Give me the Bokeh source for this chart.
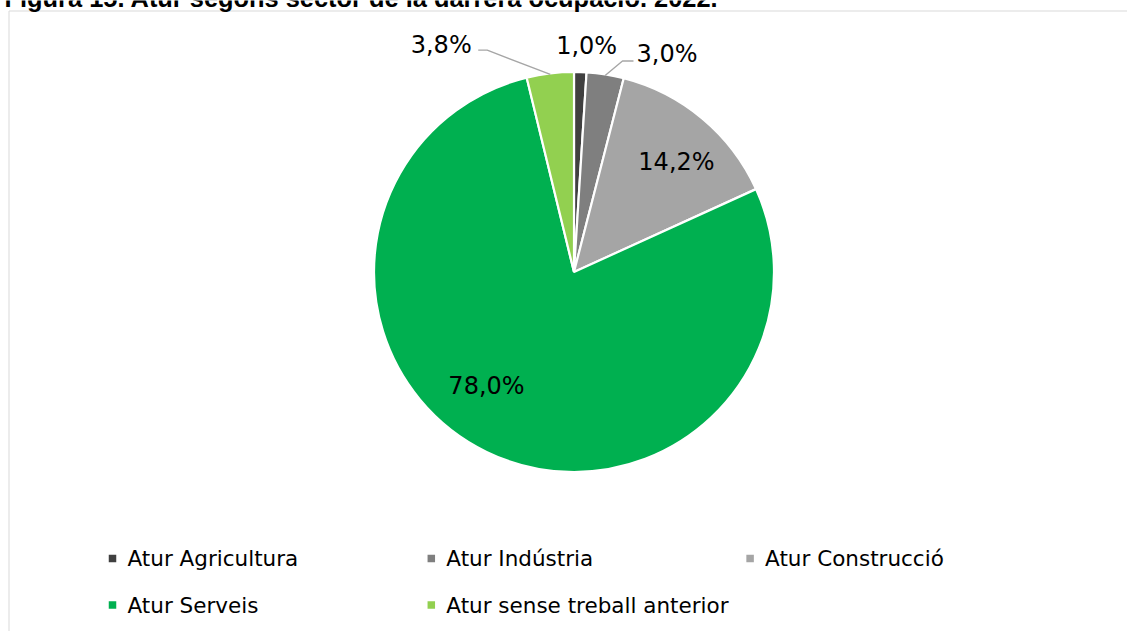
import math
from bokeh.plotting import figure
from bokeh.models import Range1d, ColumnDataSource, Label
from bokeh.core.properties import value
from bokeh.embed import file_html
from bokeh.resources import INLINE

# ---------------- data ----------------
title_text = "Figura 15. Atur segons sector de la darrera ocupació. 2022."
categories = ["Atur Agricultura", "Atur Indústria", "Atur Construcció",
              "Atur Serveis", "Atur sense treball anterior"]
shares = [1.0, 3.0, 14.2, 78.0, 3.8]
colors = ["#404040", "#7f7f7f", "#a5a5a5", "#00b050", "#92d050"]

# ---------------- layout ----------------
W, H = 1127, 631


def Y(py):
    return H - py


CX, CY = 573.5, 271.5
R = 200.0            # wedge radius (white outline eats ~1px)
RV = 199.0           # visible radius
LABEL_FONT = "DejaVu Sans"

# label placement: (radius factor, angle shift in degrees from slice middle)
label_place = [(1.136, 1.4), (1.191, 14.1), (0.757, 2.9), (0.722, 11.6), (1.321, -23.5)]
# leader lines relative to label centre: (elbow dx, elbow dy, end dx, end dy)
leader_rel = {1: (-44.5, 7, -33.5, 7), 4: (46, 5, 37, 5)}

p = figure(width=W, height=H, output_backend="svg", toolbar_location=None,
           x_range=Range1d(0, W), y_range=Range1d(0, H),
           x_axis_type=None, y_axis_type=None, min_border=0,
           outline_line_color=None, background_fill_color="white",
           border_fill_color="white", margin=(0, 0, 0, 0))
p.grid.visible = False

# chart area border
p.quad(left=[8.5], right=[W + 50], top=[Y(10.5)], bottom=[-50],
       fill_color=None, line_color="#d9d9d9", line_width=1)

# title (cropped at the top as in the reference)
p.add_layout(Label(x=4, y=Y(-2.9), text=title_text, text_font="Liberation Sans",
                   text_font_style="bold", text_font_size="25.4px", text_align="left",
                   text_baseline="middle", text_color="black"))

# pie
total = sum(shares)
starts, ends, mids = [], [], []
c = 0.0
for s in shares:
    f0 = c / total
    c += s
    f1 = c / total
    starts.append(math.pi / 2 - 2 * math.pi * f0)
    ends.append(math.pi / 2 - 2 * math.pi * f1)
    mids.append(360.0 * (f0 + f1) / 2)

src = ColumnDataSource(dict(start=starts, end=ends, color=colors, cat=categories))
p.wedge(x=CX, y=Y(CY), radius=R, start_angle="start", end_angle="end",
        direction="clock", fill_color="color", line_color="white",
        line_width=2.2, source=src)

# data labels
labels = [("%.1f" % s).replace(".", ",") + "%" for s in shares]
lx, ly, lt = [], [], []
for i, (lab, (fr, sh)) in enumerate(zip(labels, label_place)):
    th = math.radians(mids[i] + sh)
    x = CX + fr * RV * math.sin(th)
    yc = CY - fr * RV * math.cos(th)
    lx.append(x)
    ly.append(Y(yc))
    lt.append(lab)
    if i in leader_rel:
        ex, ey, nx, ny = leader_rel[i]
        tm = math.radians(mids[i])
        sx = CX + RV * math.sin(tm)
        sy = CY - RV * math.cos(tm)
        p.line(x=[sx, x + ex, x + nx], y=[Y(sy), Y(yc + ey), Y(yc + ny)],
               line_color="#a6a6a6", line_width=1.4)

p.text(x=lx, y=ly, text=lt, text_font=value(LABEL_FONT), text_font_size="24px",
       text_align="center", text_baseline="middle", text_color="black")

# legend (manual, 3 columns)
COL0, COLSTEP, ROW0, ROWSTEP = 112.0, 318.8, 558.0, 46.5
mx, my, tx, ty = [], [], [], []
for i, cat in enumerate(categories):
    col, row = i % 3, i // 3
    bx = COL0 + COLSTEP * col
    by = ROW0 + ROWSTEP * row
    mx.append(bx)
    my.append(Y(by))
    tx.append(bx + 15)
    ty.append(Y(by))
p.scatter(x=mx, y=my, marker="square", size=7.5, fill_color=colors, line_color=None)
p.text(x=tx, y=ty, text=categories, text_font=value(LABEL_FONT), text_font_size="21.5px",
       text_align="left", text_baseline="middle", text_color="black")

open("out.html", "w").write(file_html(p, INLINE))
